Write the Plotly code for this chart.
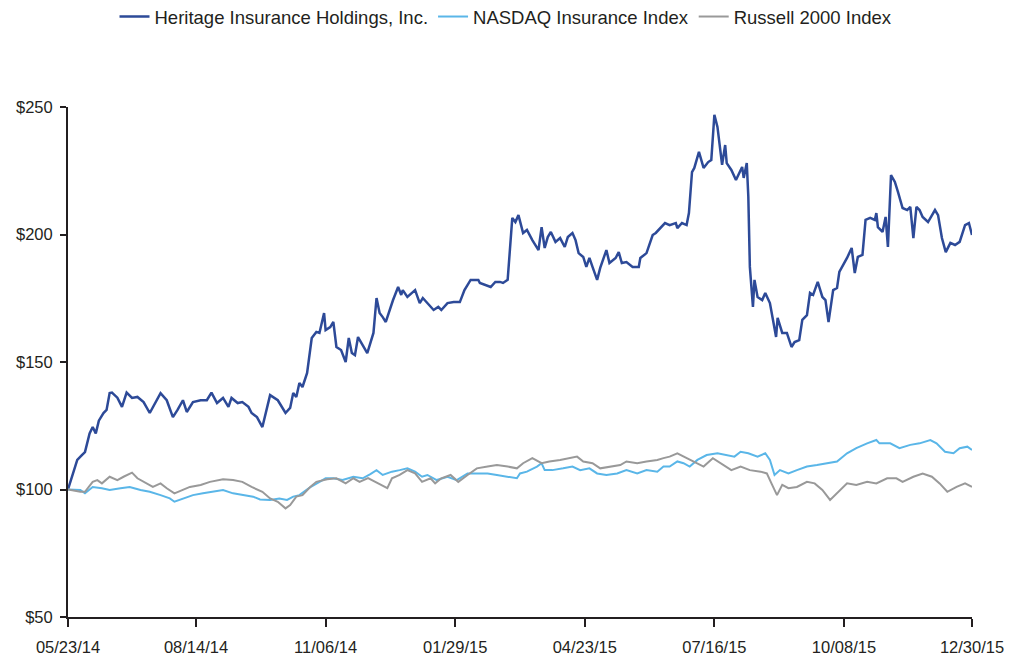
import pandas as pd
import plotly.graph_objects as go

start_date = "2014-05-23"
tick_dates = ["2014-05-23", "2014-08-14", "2014-11-06", "2015-01-29",
              "2015-04-23", "2015-07-16", "2015-10-08", "2015-12-30"]
y_ticks = [50, 100, 150, 200, 250]
y_tick_text = ["$50", "$100", "$150", "$200", "$250"]

# Heritage Insurance Holdings, Inc. (days since 05/23/14, value)
heritage_day = [0, 3, 6, 9, 11, 14, 16, 18, 20, 23, 25, 27, 28.5, 32, 35, 38, 41.5, 45, 49, 53,
                60, 64, 68, 71, 74.5, 77, 81, 86, 90, 93, 96.6, 100.5, 104, 106, 110, 113, 117, 119, 122.5, 126,
                131, 136, 141, 144, 146, 148, 150, 152, 155, 158, 161, 163, 166, 167, 170, 172, 174, 177, 180, 182,
                184, 186, 188, 194, 198, 200, 202, 204, 206, 210.7, 214, 216, 217, 220, 225, 228, 230, 237, 240, 242,
                246, 250, 254, 257, 261, 266, 267, 274, 277, 280, 282, 285, 288, 290, 292, 295, 297.5, 301, 305, 307,
                309, 311, 313, 316, 319, 322, 324, 327, 329, 331, 334, 336, 338, 340, 343, 345, 349, 351, 355, 357,
                359, 362, 366, 370, 371, 375, 379, 381, 384, 387, 390, 394, 395, 398, 401, 402.5, 404.5, 406, 409, 412,
                415, 417, 419, 421, 424, 426, 427, 430, 433, 437, 438, 440, 441, 442, 444, 445, 447, 450, 452, 455,
                457, 459, 460, 463, 466, 469, 471, 474, 476, 479, 481, 483, 486, 489, 491, 493, 496, 498.5, 500, 502,
                505, 508, 510, 512, 515, 517, 520, 523, 524, 525, 528, 530, 531.5, 533.5, 536, 538, 541, 544, 546, 548,
                550, 552, 554, 557.5, 560, 562, 564, 566.5, 569, 572, 575, 578, 581.5, 584, 586]
heritage_val = [100, 106, 111.6, 113.5, 114.7, 122, 124.5, 122, 127, 130, 131.2, 137.8, 138, 136, 132.4, 138, 135.9, 136.3, 134.3, 130,
                137.8, 135, 128.4, 131.2, 135, 130.4, 134.3, 135, 135, 138, 133.9, 135.9, 132.4, 135.9, 133.9, 134.3, 132.4, 130, 128.4, 124.5,
                137, 135, 130, 132, 137.8, 136.3, 141.8, 140.2, 145.7, 159.4, 161.8, 161.4, 169.2, 162.5, 163.7, 165.7, 155.9, 154.7, 150, 159.4,
                153.5, 152.7, 159.8, 153.5, 161.4, 175.1, 169.2, 167.6, 165.7, 174.3, 179.4, 176.3, 178.2, 175.5, 178.2, 173.1, 175.1, 170.4, 171.6, 170.4,
                173.1, 173.5, 173.5, 178.2, 182.2, 182.2, 181, 179.4, 181.4, 181.4, 181, 182.2, 206.5, 204.9, 207.6, 200.6, 201.8, 197.8, 193.9, 202.9,
                194.7, 199, 201, 197.1, 198.6, 195.1, 199, 200.6, 197.8, 192.7, 191.2, 187.3, 190.8, 187.3, 182.2, 186.9, 193.9, 188.8, 190.8, 193.1,
                188.8, 189.2, 187.3, 187.3, 190.8, 192.7, 199.8, 200.6, 202.5, 204.5, 203.7, 204.5, 202.5, 204.5, 203.7, 208.4, 224.5, 226.1, 232.4, 226.1,
                228.4, 229.2, 246.9, 242.2, 227.3, 235.1, 228, 225.3, 221.4, 226.5, 222.2, 228, 215, 187.3, 171.6, 182.2, 175.5, 174.3, 177.1, 173.1,
                166.5, 159.8, 167.3, 161.4, 161.4, 155.9, 157.8, 158.6, 166.5, 168.4, 177.1, 176.3, 181.4, 175.5, 174.3, 165.7, 178.2, 179, 185.3, 187.3,
                190.8, 194.7, 184.9, 191.2, 192, 205.7, 206.5, 205.7, 208.4, 202.9, 201, 206.9, 195.1, 223.3, 220.6, 216.7, 210.4, 209.6, 210.8, 198.6,
                210.8, 209.6, 206.9, 204.9, 207.6, 209.6, 207.6, 198.6, 193.1, 196.7, 195.9, 197.1, 203.7, 204.5, 199.8]

# NASDAQ Insurance Index
nasdaq_day = [0, 8, 11, 16, 22, 27, 34, 40, 47, 53, 60, 66, 69, 74.5, 81, 87.5, 94, 100.5, 107, 113,
              120, 124.5, 131, 137, 142, 146, 150, 156, 161, 167, 172, 178, 185, 191, 196, 200, 204, 210, 215, 220,
              225, 229.5, 233, 239, 246, 252, 259, 265, 272, 278, 285, 291, 293, 297.5, 304, 307, 309, 314, 321, 327,
              332, 338, 343, 349, 356, 362, 369, 375, 382, 386, 390, 395, 399, 403, 408, 414, 421, 427, 432, 436,
              441, 447, 452, 455, 458, 461.5, 467, 472.5, 479, 485.5, 492, 498.5, 505, 511, 518, 524, 526, 533,
              539, 546, 552, 559, 563, 568.5, 574, 578, 583, 586]
nasdaq_val = [100, 99.8, 98.5, 101, 100.5, 99.8, 100.5, 101, 99.8, 99.1, 97.8, 96.5, 95.2, 96.5, 97.8, 98.5, 99.1, 99.8, 98.5, 97.8,
              97.2, 96.1, 95.9, 96.5, 95.9, 97.2, 97.8, 100.5, 102.4, 104.4, 104.4, 103.7, 105, 104.4, 106, 107.6, 105.7, 107, 107.6, 108.3,
              107, 105, 105.7, 103.7, 105, 103.7, 106.3, 106.3, 106.3, 105.7, 105, 104.4, 106.3, 107, 109, 110.3, 107.6, 107.6, 108.3, 109,
              107.6, 108.3, 106.3, 105.7, 106.3, 107.6, 106.3, 107.6, 107, 109, 109, 111, 110.3, 109, 111.6, 113.5, 114.2, 113.5, 112.9, 114.8,
              114.2, 112.9, 114.2, 111.6, 105.7, 107.6, 106.3, 107.6, 109, 109.6, 110.3, 111, 114.2, 116.2, 118.1, 119.4, 118.1, 118.1,
              116.2, 117.5, 118.1, 119.4, 118.1, 114.8, 114.2, 116.2, 116.8, 115.5]

# Russell 2000 Index
russell_day = [0, 8, 11, 16, 19, 22, 27, 32, 36, 41.5, 45, 51, 55, 60, 64, 69, 74, 79, 86, 92,
               100.5, 107, 113, 119, 126, 131, 136, 141, 144, 148, 152, 157, 161, 168, 174, 180, 185, 189, 194.5, 201,
               207, 210, 215, 220, 225, 229.5, 235, 238, 242, 248, 253, 259, 265, 272, 278, 285, 291, 295, 301, 307,
               312, 319, 325, 330, 334, 340, 345, 351, 358, 362, 369, 375, 382, 386, 390, 395, 401, 405, 412, 418,
               425, 430, 436, 442, 449, 453, 456, 459.6, 463, 467, 472.5, 479, 484, 489, 494, 498.5, 505, 511, 518, 524,
               531, 537, 541, 548, 554, 560, 565, 570, 576, 581.5, 586]
russell_val = [100, 99.1, 99.1, 103, 103.7, 102.4, 105, 103.7, 105, 106.6, 104.4, 102.4, 101, 102.4, 100.5, 98.5, 99.8, 101, 101.8, 103,
               104, 103.7, 103, 101, 99.1, 96.5, 95.2, 92.6, 93.9, 97.2, 97.8, 101, 103, 104, 104.4, 102.4, 104.4, 103, 104.5, 102.4,
               100.5, 104.4, 105.7, 107.6, 106.3, 103, 104.4, 102.4, 104.4, 105.7, 103, 105.7, 108.3, 109, 109.6, 109, 108.3, 110.3, 112.3, 110.3,
               111, 111.6, 112.3, 112.9, 111, 110.3, 108.3, 109, 109.6, 111, 110.3, 111, 111.6, 112.3, 112.9, 114.2, 112.3, 111, 109, 112.3,
               109.6, 107.6, 109, 107.6, 107, 106.3, 102.4, 97.8, 101.8, 100.5, 101, 103, 102.4, 99.8, 95.9, 98.5, 102.4, 101.8, 103, 102.4,
               104.4, 104.4, 103, 105, 106.3, 105, 102.4, 99.1, 101, 102.4, 101]

base = pd.Timestamp(start_date)


def to_dates(days):
    return [base + pd.Timedelta(days=d) for d in days]


font_family = "Liberation Sans, Arial, Helvetica, sans-serif"
text_color = "#231f20"

fig = go.Figure()
fig.add_trace(go.Scatter(x=to_dates(heritage_day), y=heritage_val, mode="lines",
                         name="Heritage Insurance Holdings, Inc.",
                         line=dict(color="#2d4a98", width=2.5)))
fig.add_trace(go.Scatter(x=to_dates(nasdaq_day), y=nasdaq_val, mode="lines",
                         name="NASDAQ Insurance Index",
                         line=dict(color="#5ab6e8", width=2)))
fig.add_trace(go.Scatter(x=to_dates(russell_day), y=russell_val, mode="lines",
                         name="Russell 2000 Index",
                         line=dict(color="#999999", width=2)))

fig.update_layout(
    width=1012, height=658,
    margin=dict(l=68, r=40, t=107, b=41, autoexpand=False),
    paper_bgcolor="white", plot_bgcolor="white",
    font=dict(family=font_family, size=16.5, color=text_color),
    showlegend=True,
    legend=dict(orientation="h", x=0.5, xanchor="center",
                xref="container", yref="container",
                y=1 - 17 / 658, yanchor="middle",
                font=dict(size=18.5, color=text_color), itemwidth=30,
                traceorder="normal"),
    xaxis=dict(
        type="date",
        automargin=False,
        range=[tick_dates[0], tick_dates[-1]],
        tickvals=tick_dates,
        tickformat="%m/%d/%y",
        tickfont=dict(size=16.5),
        showgrid=False, zeroline=False,
        showline=True, linecolor=text_color, linewidth=2,
        ticks="outside", ticklen=8, tickwidth=2, tickcolor=text_color,
        ticklabelstandoff=6,
    ),
    yaxis=dict(
        automargin=False,
        range=[50, 250],
        tickvals=y_ticks, ticktext=y_tick_text,
        tickfont=dict(size=16.5),
        showgrid=False, zeroline=False,
        showline=True, linecolor=text_color, linewidth=2,
        ticks="outside", ticklen=6, tickwidth=2, tickcolor=text_color,
        ticklabelstandoff=4,
    ),
)

fig.write_html("out.html",
               config={"displayModeBar": False},
               post_script="document.body.style.margin='0';document.body.style.overflow='hidden';")
